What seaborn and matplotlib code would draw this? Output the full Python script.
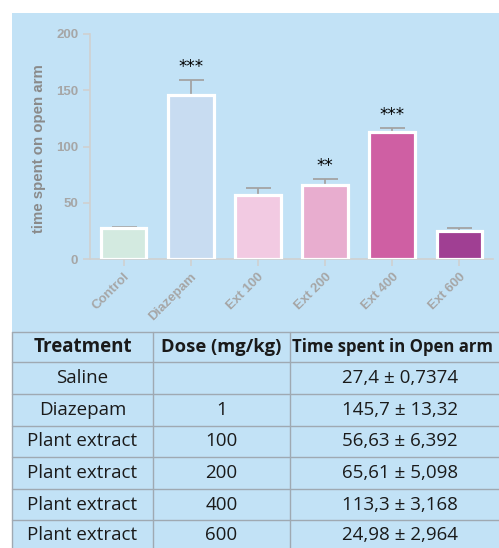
import matplotlib
matplotlib.use("Agg")
import matplotlib.pyplot as plt
import matplotlib.patches as mpatches
import seaborn as sns
import pandas as pd

# data
groups = ["Control", "Diazepam", "Ext 100", "Ext 200", "Ext 400", "Ext 600"]
means = [27.4, 145.7, 56.63, 65.61, 113.3, 24.98]
sems = [0.7374, 13.32, 6.392, 5.098, 3.168, 2.964]
stars = ["", "***", "", "**", "***", ""]
colors = ["#d3eae0", "#c8dcf1", "#f2cae2", "#e8adcf", "#cf5fa3", "#a03f93"]

treatments = ["Saline", "Diazepam", "Plant extract", "Plant extract", "Plant extract", "Plant extract"]
doses = ["", "1", "100", "200", "400", "600"]
headers = ["Treatment", "Dose (mg/kg)", "Time spent in Open arm"]

panel = "#c2e2f6"
W, H = 499, 548

sns.set_style("white")
plt.rcParams["font.family"] = ["Liberation Sans", "DejaVu Sans"]

fig = plt.figure(figsize=(W / 100, H / 100), dpi=100)
fig.patch.set_facecolor("white")
fig.patches.append(mpatches.Rectangle((12 / W, 0), 1, 1 - 13 / H, transform=fig.transFigure,
                                      facecolor=panel, edgecolor="none", zorder=-10))

# bar chart
ax = fig.add_axes([90 / W, 1 - 259 / H, (493 - 90) / W, (259 - 34) / H])
ax.set_facecolor("none")
df = pd.DataFrame({"group": groups, "mean": means})
sns.barplot(data=df, x="group", y="mean", hue="group", palette=colors, legend=False,
            width=0.68, edgecolor="white", linewidth=2.3, saturation=1, ax=ax, zorder=3)
ax.errorbar(range(len(groups)), means, yerr=[[0] * len(sems), sems], fmt="none",
            ecolor="#a3a3a3", elinewidth=1.3, capsize=9, capthick=1.3, zorder=2)
for i, s in enumerate(stars):
    if s:
        ax.annotate(s, (i, means[i] + sems[i]), xytext=(0, 9.5), textcoords="offset points",
                    ha="center", va="center", fontsize=12, color="black", family="DejaVu Sans")

ax.set_xlim(-0.5, 5.5)
ax.set_ylim(0, 200)
ax.set_yticks([0, 50, 100, 150, 200])
ax.set_xlabel("")
ax.set_ylabel("time spent on open arm", fontsize=10.8, fontweight="bold", color="#8a8a8a")
ax.yaxis.set_label_coords(-0.11, 0.49)
for side in ["top", "right"]:
    ax.spines[side].set_visible(False)
for side in ["left", "bottom"]:
    ax.spines[side].set_color("#d0d0d0")
    ax.spines[side].set_linewidth(1.2)
ax.tick_params(axis="both", direction="out", length=5, width=1.2, color="#d0d0d0",
               labelcolor="#a6a6a6", labelsize=9.5, left=True, bottom=True)
for lab in ax.get_yticklabels():
    lab.set_fontweight("bold")
ax.set_xticks(range(len(groups)))
ax.set_xticklabels(groups, rotation=45, ha="right", rotation_mode="anchor", fontweight="bold")

# table
tab = fig.add_axes([12 / W, 1 - 551 / H, (520 - 12) / W, (551 - 332) / H])
tab.set_xlim(12, 520)
tab.set_ylim(551, 332)
tab.axis("off")
col_x = [12, 153, 290]
row_y = [332, 362, 394, 426, 457, 489, 520, 551]
line_c = "#9fa9b2"
for y in row_y[:-1]:
    tab.plot([12, 520], [y, y], color=line_c, lw=1, clip_on=False)
for x in col_x:
    tab.plot([x, x], [332, 551], color=line_c, lw=1, clip_on=False)

tfont = ["Open Sans", "DejaVu Sans"]
tcol = "#1a1a1a"
hy = (row_y[0] + row_y[1]) / 2
tab.text((col_x[0] + col_x[1]) / 2, hy, headers[0], ha="center", va="center",
         fontsize=13.5, fontweight="bold", family=tfont, color=tcol)
tab.text((col_x[1] + col_x[2]) / 2, hy, headers[1], ha="center", va="center",
         fontsize=13.2, fontweight="bold", family=tfont, color=tcol)
tab.text(292, hy, headers[2], ha="left", va="center",
         fontsize=12.1, fontweight="bold", family=tfont, color=tcol)


def fmt(v):
    return str(v).replace(".", ",")


for i in range(len(groups)):
    y = (row_y[i + 1] + row_y[i + 2]) / 2
    tab.text((col_x[0] + col_x[1]) / 2, y, treatments[i], ha="center", va="center",
             fontsize=13.5, family=tfont, color=tcol)
    tab.text((col_x[1] + col_x[2]) / 2, y, doses[i], ha="center", va="center",
             fontsize=13.5, family=tfont, color=tcol)
    tab.text(400, y, f"{fmt(means[i])} \u00b1 {fmt(sems[i])}", ha="center", va="center",
             fontsize=13.5, family=tfont, color=tcol)

fig.savefig("out.png", dpi=100)
